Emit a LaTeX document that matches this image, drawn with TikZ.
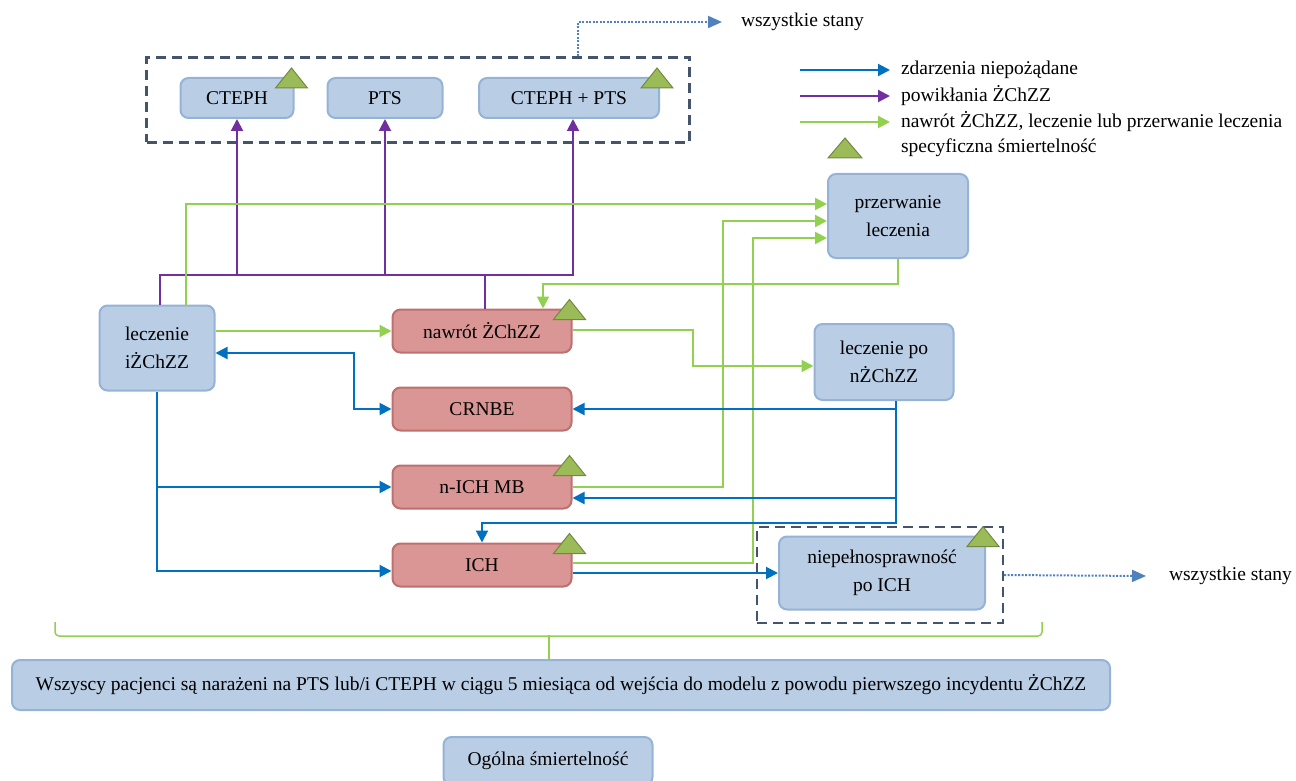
\documentclass[tikz,border=0pt]{standalone}
\usepackage{fontspec}
\setmainfont{Liberation Serif}
\usetikzlibrary{arrows.meta,positioning}

\definecolor{boxfill}{RGB}{185,205,229}
\definecolor{boxline}{RGB}{149,179,215}
\definecolor{redfill}{RGB}{217,150,148}
\definecolor{redline}{RGB}{190,112,110}
\definecolor{trifill}{RGB}{155,187,89}
\definecolor{triline}{RGB}{113,137,63}
\definecolor{niebieski}{RGB}{0,112,192}
\definecolor{fiolet}{RGB}{112,48,160}
\definecolor{zielony}{RGB}{146,208,80}
\definecolor{ramka}{RGB}{68,84,106}
\definecolor{kropki}{RGB}{79,129,189}

\begin{document}
\begin{tikzpicture}[x=1pt,y=-1pt,>={Triangle[length=12pt,width=12pt]},line width=2pt,node distance=78pt,font=\fontsize{19.5}{28}\selectfont]
                  \tikzstyle{stan}=[draw=boxline,fill=boxfill,rounded corners=8pt,line width=2pt,align=center,text=black]
                  \tikzstyle{zdarzenie}=[stan,draw=redline,fill=redfill,minimum width=179pt,minimum height=43pt]
                  \tikzstyle{ramkaprz}=[draw=ramka,dash pattern=on 10pt off 6pt,line width=2.2pt]
                  \tikzstyle{ae}=[niebieski,->]
                  \tikzstyle{pow}=[fiolet,->]
                  \tikzstyle{nawr}=[zielony,->]
                  \tikzstyle{kropk}=[kropki,line width=2pt,dash pattern=on 2pt off 1.5pt,-{Triangle[length=14pt,width=12pt]}]
                  \tikzstyle{tri}=[fill=trifill,draw=triline,line width=1pt]
                  \tikzstyle{opis}=[anchor=west,inner sep=0pt,text=black]

                  \useasboundingbox (0,0) rectangle (1296,781);

                  \node[ramkaprz,minimum width=543pt,minimum height=85pt] (ramkaP) at (418,100) {};
                  \node[ramkaprz,minimum width=246pt,minimum height=96pt] (ramkaN) at (880,575) {};

                  \node[stan,minimum width=113pt,minimum height=40pt] (cteph)    at (237,98)  {CTEPH};
                  \node[stan,minimum width=115pt,minimum height=40pt] (pts)      at (385,98)  {PTS};
                  \node[stan,minimum width=180pt,minimum height=40pt] (ctephpts) at (569,98)  {CTEPH + PTS};
                  \node[stan,minimum width=115pt,minimum height=85pt] (leczI)    at (157,348) {leczenie\\iŻChZZ};
                  \node[stan,minimum width=140pt,minimum height=84pt] (przerw)   at (898,216) {przerwanie\\leczenia};
                  \node[stan,minimum width=139pt,minimum height=76pt] (leczN)    at (884,362) {leczenie po\\nŻChZZ};
                  \node[stan,minimum width=206pt,minimum height=73pt] (niep)     at (882,573) {niepełnosprawność\\po ICH};

                  \node[zdarzenie] (nawrot) at (482,331)       {nawrót ŻChZZ};
                  \node[zdarzenie] (crnbe)  [below of=nawrot] {CRNBE};
                  \node[zdarzenie] (nich)   [below of=crnbe]  {n-ICH MB};
                  \node[zdarzenie] (ich)    [below of=nich]   {ICH};

                  \node[stan,minimum width=1098pt,minimum height=50pt] (wszyscy) at (561,685) {Wszyscy pacjenci są narażeni na PTS lub/i CTEPH w ciągu 5 miesiąca od wejścia do modelu z powodu pierwszego incydentu ŻChZZ};
                  \node[stan,minimum width=209pt,minimum height=48pt] (ogolna) at (548,761) {Ogólna śmiertelność};

                  \node[opis] (wsz1) at (740,22)  {wszystkie stany};
                  \node[opis] (wsz2) at (1168,576) {wszystkie stany};

                  \node[opis] (leg1) at (900,70)  {zdarzenia niepożądane};
                  \node[opis] (leg2) at (900,96)  {powikłania ŻChZZ};
                  \node[opis] (leg3) at (900,122) {nawrót ŻChZZ, leczenie lub przerwanie leczenia};
                  \node[opis] (leg4) at (900,148) {specyficzna śmiertelność};

                  \draw[ae]   ([xshift=-10pt]leg1.west) ++(-90,0) -- ([xshift=-10pt]leg1.west);
                  \draw[pow]  ([xshift=-10pt]leg2.west) ++(-90,0) -- ([xshift=-10pt]leg2.west);
                  \draw[nawr] ([xshift=-10pt]leg3.west) ++(-90,0) -- ([xshift=-10pt]leg3.west);
                  \filldraw[tri] (leg4.west) ++(-72,10) -- ++(34,0) -- ++(-17,-20) -- cycle;

                  \coordinate (szyna) at (0,275);
                  \draw[pow] ([xshift=3pt]leczI.north) |- ([xshift=4pt]ctephpts.south |- szyna) -- ([xshift=4pt]ctephpts.south);
                  \draw[pow] (cteph.south |- szyna) -- (cteph.south);
                  \draw[pow] (pts.south |- szyna) -- (pts.south);
                  \draw[fiolet] ([xshift=3pt]nawrot.north) -- ([xshift=3pt]nawrot.north |- szyna);

                  \draw[nawr] ([xshift=29pt]leczI.north) |- ([yshift=12pt]przerw.west);
                  \draw[nawr] (leczI.east |- nawrot.west) -- (nawrot.west);
                  \draw[nawr] (przerw.south) -- ++(0,25) -| ([xshift=61pt]nawrot.north);
                  \draw[nawr] ([yshift=1pt]nawrot.east) -- ++(120,0) |- ([yshift=-4pt]leczN.west);
                  \draw[nawr] (nich.east) -- ++(150,0) |- ([yshift=-5pt]przerw.west);
                  \draw[nawr] ([yshift=2pt]ich.east) -- ++(180,0) |- ([yshift=-22pt]przerw.west);

                  \draw[ae,<->] (crnbe.west) -- ++(-38,0) |- ([yshift=-5pt]leczI.east);
                  \draw[ae] (leczI.south) |- ([yshift=-6pt]ich.west);
                  \draw[ae] (leczI.south |- nich.west) -- (nich.west);
                  \coordinate (pion) at ([xshift=12pt]leczN.south);
                  \coordinate (nichB) at ([yshift=-11pt]nich.east);
                  \draw[ae] (pion) -- ++(0,122) -| (ich.north);
                  \draw[ae] (pion |- crnbe.east) -- (crnbe.east);
                  \draw[ae] (pion |- nichB) -- (nichB);
                  \draw[ae] ([yshift=-8pt]ich.east) -- ([yshift=-8pt]ich.east -| niep.west);

                  \draw[kropk] ([xshift=160pt]ramkaP.north) |- ([xshift=-18pt]wsz1.west);
                  \draw[kropk] (ramkaN.east) -- ([xshift=-22pt]wsz2.west);

                  \draw[zielony,line width=1.5pt,rounded corners=4pt] (55,622) |- (1042,636) -- (1042,622);
                  \draw[zielony,line width=1.5pt] (wszyscy.north -| 549,0) -- ++(0,-24);

                  \foreach \n in {cteph,ctephpts,nawrot,nich,ich,niep}
                    \filldraw[tri] (\n.north east) ++(-19,11) -- ++(32,0) -- ++(-16,-20) -- cycle;
                \end{tikzpicture}
\end{document}
